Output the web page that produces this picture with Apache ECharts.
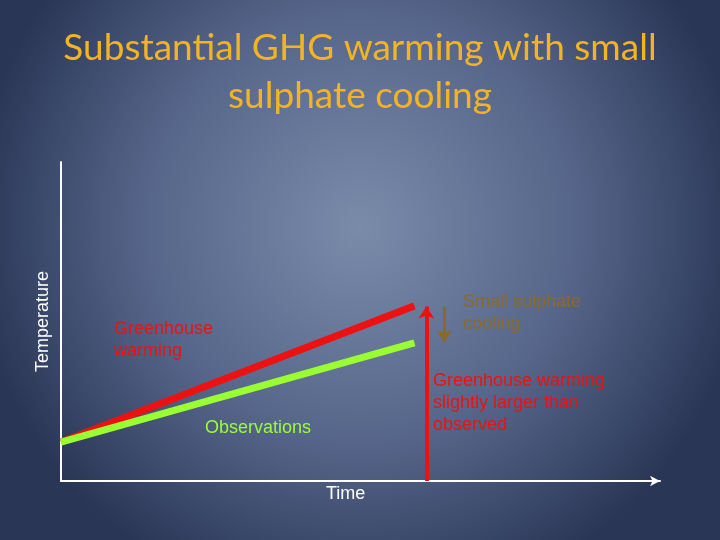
<!DOCTYPE html>
<html>
<head>
<meta charset="utf-8">
<script src="https://cdn.jsdelivr.net/npm/echarts@6/dist/echarts.min.js"></script>
<style>html,body{margin:0;padding:0;}#c{width:720px;height:540px;}</style>
</head>
<body>
<div id="c"></div>
<script>
// Data (schematic, axis units 0-100)
var timePts = [0, 59];
var greenhouse = [12.2, 54.9];
var observations = [12.2, 43.3];
var gapX = 61;          // vertical "greenhouse warming larger" arrow
var gapArrow = [-0.5, 54.7];
var coolX = 64;         // sulphate cooling arrow
var coolArrow = [54.5, 43.5];

var titleText = 'Substantial GHG warming with small\nsulphate cooling';

var chart = echarts.init(document.getElementById('c'));
var red = '#ee1111', green = '#99ff33', brown = '#8c6a26';
var font = '"Liberation Sans", Arial, sans-serif';

chart.setOption({
  animation: false,
  backgroundColor: {
    type: 'radial', x: 0.5, y: 0.42, r: 0.72,
    colorStops: [
      {offset: 0, color: '#7a8baa'},
      {offset: 0.55, color: '#56668a'},
      {offset: 1, color: '#2a3656'}
    ]
  },
  grid: {left: 61, right: 60, top: 162, bottom: 59},
  xAxis: {
    type: 'value', min: 0, max: 100,
    axisLine: {show: true, lineStyle: {color: '#ffffff', width: 2}, symbol: ['none', 'arrow'], symbolSize: [8, 10]},
    axisTick: {show: false}, axisLabel: {show: false}, splitLine: {show: false}
  },
  yAxis: {
    type: 'value', min: 0, max: 100,
    axisLine: {show: true, lineStyle: {color: '#ffffff', width: 2}},
    axisTick: {show: false}, axisLabel: {show: false}, splitLine: {show: false},
    name: 'Temperature', nameLocation: 'middle', nameGap: 9, nameRotate: 90,
    nameTextStyle: {color: '#ffffff', fontSize: 18, fontFamily: font}
  },
  series: [
    {type: 'line', data: timePts.map(function (t, i) { return [t, greenhouse[i]]; }),
     symbol: 'none', lineStyle: {color: red, width: 7}, z: 2},
    {type: 'line', data: timePts.map(function (t, i) { return [t, observations[i]]; }),
     symbol: 'none', lineStyle: {color: green, width: 7}, z: 3},
    {type: 'lines', coordinateSystem: 'cartesian2d', z: 4,
     symbol: ['none', 'arrow'], symbolSize: 12,
     data: [
       {coords: [[gapX, gapArrow[0]], [gapX, gapArrow[1]]], lineStyle: {color: red, width: 4, opacity: 1}},
       {coords: [[coolX, coolArrow[0]], [coolX, coolArrow[1]]], lineStyle: {color: brown, width: 3, opacity: 1}}
     ]}
  ],
  graphic: [
    {type: 'text', left: 'center', top: 24, style: {text: titleText, fill: '#f2b325', font: '37px Lato, "Open Sans", sans-serif', textAlign: 'center', lineHeight: 48}},
    {type: 'text', left: 114, top: 318, style: {text: 'Greenhouse\nwarming', fill: red, font: '18px ' + font, lineHeight: 22}},
    {type: 'text', left: 205, top: 419, style: {text: 'Observations', fill: green, font: '18px ' + font}},
    {type: 'text', left: 463, top: 291, style: {text: 'Small sulphate\ncooling', fill: brown, font: '18px ' + font, lineHeight: 22}},
    {type: 'text', left: 433, top: 370, style: {text: 'Greenhouse warming\nslightly larger than\nobserved', fill: red, font: '18px ' + font, lineHeight: 22}},
    {type: 'text', left: 326, top: 485, style: {text: 'Time', fill: '#ffffff', font: '18px ' + font}}
  ]
});
</script>
</body>
</html>
